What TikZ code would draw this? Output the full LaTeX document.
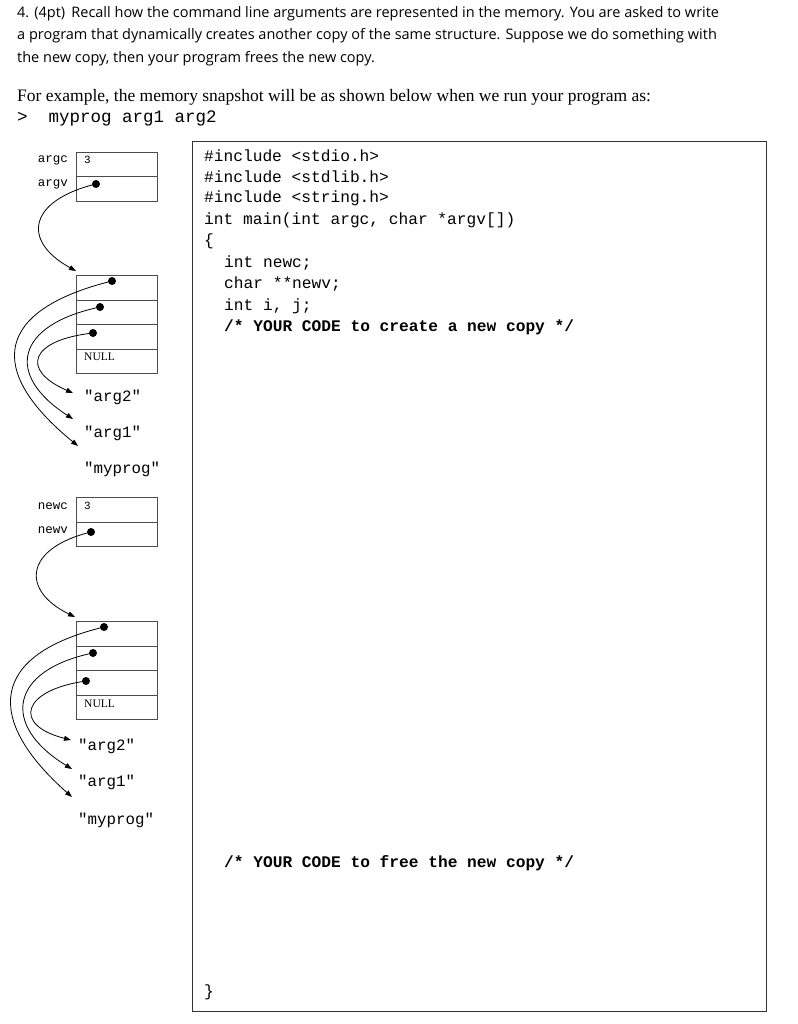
\documentclass[tikz,border=0pt]{standalone}
\usepackage{fontspec}
\setmainfont{Liberation Serif}
\setmonofont{Liberation Mono}
\newfontfamily\hsans{Open Sans}
\usetikzlibrary{arrows.meta}
\begin{document}
\begin{tikzpicture}[x=1pt,y=-1pt,
  cell/.style={draw=black!70,minimum width=81pt,minimum height=24.5pt,inner sep=0pt,anchor=north west},
  lbl/.style={font=\ttfamily\fontsize{12.5}{13}\selectfont,anchor=east,inner sep=0pt},
  val/.style={font=\ttfamily\fontsize{11}{12}\selectfont,anchor=west,inner sep=0pt},
  str/.style={font=\ttfamily\fontsize{15.8}{17}\selectfont,anchor=west,inner sep=0pt},
  code/.style={font=\ttfamily\fontsize{16.2}{17}\selectfont,anchor=west,inner sep=0pt},
  hd/.style={font=\hsans\fontsize{14.5}{16}\selectfont,anchor=west,inner sep=0pt},
  ptr/.style={-{Triangle[length=7pt,width=5pt]},thick},
  dot/.style={circle,fill=black,inner sep=0pt,minimum size=8pt}]
\useasboundingbox (0,0) rectangle (797,1024);
\node[hd] (h1) at (17,14) {4. (4pt)\, Recall how the command line arguments are represented in the memory. You are asked to write};
\node[hd] (h2) at (17,36) {a program that dynamically creates another copy of the same structure. Suppose we do something with};
\node[hd] (h3) at (17,59) {the new copy, then your program frees the new copy.};
\node[font=\fontsize{17.5}{19}\selectfont,anchor=west,inner sep=0pt] (ex) at (17,97) {For example, the memory snapshot will be as shown below when we run your program as:};
\node[code,font=\ttfamily\fontsize{17.5}{18}\selectfont] (cmd) at (17,118) {>\ \ myprog arg1 arg2};

% code box
\node[draw=black!80,line width=0.8pt,minimum width=574pt,minimum height=870pt,anchor=north west,inner sep=0pt] (cb) at (192,141) {};
\node[code] (c1) at (204,156) {\#include <stdio.h>};
\node[code] (c2) at (204,177) {\#include <stdlib.h>};
\node[code] (c3) at (204,198) {\#include <string.h>};
\node[code] (c4) at (204,220) {int main(int argc, char *argv[])};
\node[code] (c5) at (204,241) {\{};
\node[code] (c6) at (224,263) {int newc;};
\node[code] (c7) at (224,284) {char **newv;};
\node[code] (c8) at (224,306) {int i, j;};
\node[code] (c9) at (224,327) {\bfseries /* YOUR CODE to create a new copy */};
\node[code] (c10) at (224,863) {\bfseries /* YOUR CODE to free the new copy */};
\node[code] (c11) at (204,992) {\}};

% top structure
\node[cell] (argc) at (76,152) {};
\node[cell] (argv) at (76,176.5) {};
\node[lbl] (largc) at (68,160) {argc};
\node[lbl] (largv) at (68,184) {argv};
\node[val] (v3) at (84,160) {3};
\node[dot] (d0) at (96,184) {};
\node[cell] (a0) at (76,275) {};
\node[cell] (a1) at (76,299.5) {};
\node[cell] (a2) at (76,324) {};
\node[cell] (a3) at (76,348.5) {};
\node[val,font=\rmfamily\fontsize{11.5}{12}\selectfont] (n1) at (84,357) {NULL};
\node[dot] (d1) at (112,281) {};
\node[dot] (d2) at (100,307) {};
\node[dot] (d3) at (93,333) {};
\node[str] (s2) at (84,397) {"arg2"};
\node[str] (s1) at (84,433) {"arg1"};
\node[str] (s0) at (84,469) {"myprog"};
\coordinate (t0) at (76,271);
\coordinate (t1) at (78,446);
\coordinate (t2) at (73,419);
\coordinate (t3) at (73,393);
\draw[ptr] (d0.center) .. controls (30,200) and (20,240) .. (t0);
\draw[ptr] (d1.center) .. controls (-5,310) and (-15,370) .. (t1);
\draw[ptr] (d2.center) .. controls (15,325) and (5,375) .. (t2);
\draw[ptr] (d3.center) .. controls (30,340) and (20,370) .. (t3);

% bottom structure
\node[cell] (newc) at (76,497) {};
\node[cell] (newv) at (76,521.5) {};
\node[lbl] (lnewc) at (68,506) {newc};
\node[lbl] (lnewv) at (68,530) {newv};
\node[val] (w3) at (84,506) {3};
\node[dot] (e0) at (91,532) {};
\node[cell] (b0) at (76,621) {};
\node[cell] (b1) at (76,645.5) {};
\node[cell] (b2) at (76,670) {};
\node[cell] (b3) at (76,694.5) {};
\node[val,font=\rmfamily\fontsize{11.5}{12}\selectfont] (n2) at (84,704) {NULL};
\node[dot] (e1) at (104,627) {};
\node[dot] (e2) at (93,653) {};
\node[dot] (e3) at (86,681) {};
\node[str] (r2) at (78,746) {"arg2"};
\node[str] (r1) at (78,782) {"arg1"};
\node[str] (r0) at (78,820) {"myprog"};
\coordinate (u0) at (75,617);
\coordinate (u1) at (72,797);
\coordinate (u2) at (72,769);
\coordinate (u3) at (71,740);
\draw[ptr] (e0.center) .. controls (25,548) and (20,590) .. (u0);
\draw[ptr] (e1.center) .. controls (-12,655) and (-15,720) .. (u1);
\draw[ptr] (e2.center) .. controls (10,670) and (0,725) .. (u2);
\draw[ptr] (e3.center) .. controls (22,690) and (12,725) .. (u3);
\end{tikzpicture}
\end{document}
